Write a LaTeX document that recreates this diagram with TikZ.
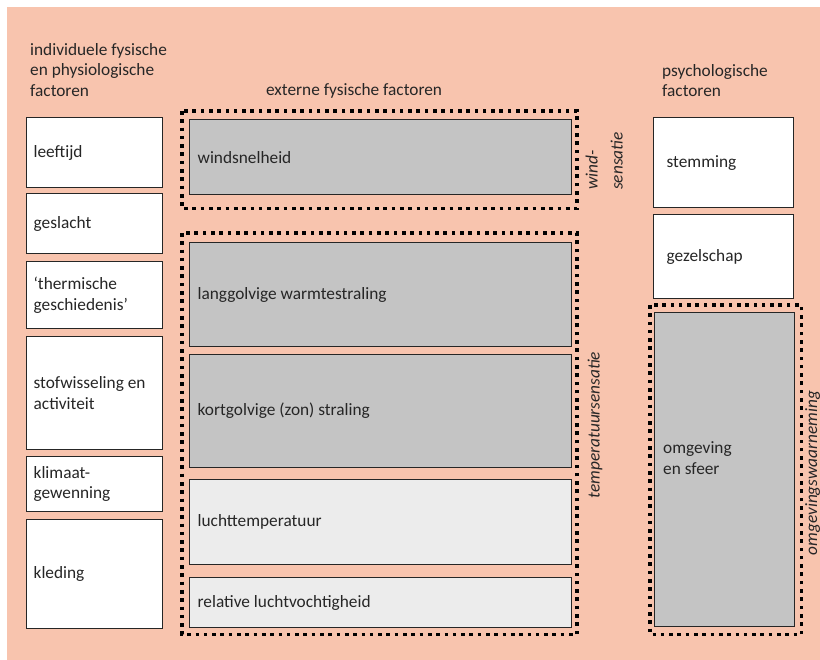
\documentclass[tikz,border=0pt]{standalone}
\usepackage{fontspec}
\setmainfont{Carlito}
\usepackage{tikz}
\usetikzlibrary{positioning}

\definecolor{zalm}{HTML}{F8C4AE}
\definecolor{donker}{HTML}{C4C4C4}
\definecolor{licht}{HTML}{ECECEC}

\begin{document}
\begin{tikzpicture}[x=1pt, y=-1pt,
  every node/.style={font=\fontsize{17.3}{20.5}\selectfont, text=black!85},
  box/.style={rectangle, draw=black!85, line width=1.3pt, anchor=north west,
    align=flush left, inner ysep=0pt},
  links/.style={box, fill=white, minimum width=136pt, text width=122pt, inner xsep=7pt},
  midden/.style={box, minimum width=382pt, text width=366pt, inner xsep=8pt},
  rechts/.style={box, fill=white, minimum width=140pt, text width=114pt, inner xsep=13pt},
  kader/.style={draw=black, line width=3.6pt, dash pattern=on 3.6pt off 4.7pt},
  kop/.style={align=flush left, inner sep=0pt},
  zij/.style={rotate=90, inner sep=0pt, align=flush left,
    font=\itshape\fontsize{17.3}{20.5}\selectfont}]
  \useasboundingbox (0,0) rectangle (820,660);
  \fill[zalm] (7,7) rectangle (820,660);

  % koppen
  \node[kop, anchor=north west] (kopindividu) at (30,43)
    {individuele fysische\\en physiologische\\factoren};
  \node[kop, anchor=base] (kopextern) at (354,96) {externe fysische factoren};
  \node[kop, anchor=north west] (koppsycho) at (662,64) {psychologische\\factoren};

  % individuele factoren
  \node[links, minimum height=70pt] (leeftijd) at (26,117) {leeftijd};
  \node[links, minimum height=60pt] (geslacht) at (26,193) {geslacht};
  \node[links, minimum height=67pt] (thermisch) at (26,261) {`thermische\\geschiedenis'};
  \node[links, minimum height=113pt] (stofwisseling) at (26,336) {stofwisseling en\\activiteit};
  \node[links, minimum height=55pt] (klimaat) at (26,456) {klimaat-\\gewenning};
  \node[links, minimum height=109pt] (kleding) at (26,519) {kleding};

  % externe factoren
  \draw[kader] (182,111) rectangle (577,208.5);
  \node[midden, fill=donker, minimum height=75pt] (wind) at (189,119) {windsnelheid};
  \node[zij, anchor=south west] (windsensatie) at (623,190) {wind-\\[4.5pt]sensatie};

  \draw[kader] (182,233) rectangle (577,634.5);
  \node[midden, fill=donker, minimum height=104pt] (langgolf) at (189,242) {langgolvige warmtestraling};
  \node[midden, fill=donker, minimum height=113pt] (kortgolf) at (189,354) {kortgolvige (zon) straling};
  \node[midden, fill=licht, minimum height=85pt] (luchttemp) at (189,479) {luchttemperatuur};
  \node[midden, fill=licht, minimum height=50pt] (vocht) at (189,577) {relative luchtvochtigheid};
  \node[zij] (tempsensatie) at (595,425) {temperatuursensatie};

  % psychologische factoren
  \node[rechts, minimum height=90pt] (stemming) at (653,117) {stemming};
  \node[rechts, minimum height=84pt] (gezelschap) at (653,214) {gezelschap};
  \draw[kader] (650,305) rectangle (801.5,634.5);
  \node[rechts, fill=donker, minimum height=314pt] (omgeving) at (654,312) {};
  \node[kop, anchor=west] (sfeer) at (663,458) {omgeving\\en sfeer};
  \node[zij, anchor=base] (waarneming) at (817,473) {omgevingswaarneming};
\end{tikzpicture}
\end{document}
